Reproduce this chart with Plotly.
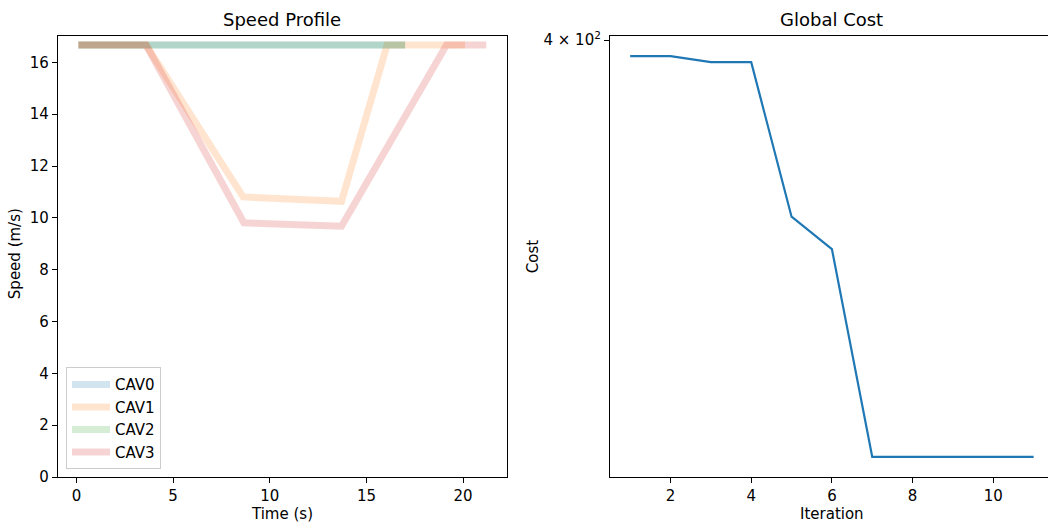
import plotly.graph_objects as go
import numpy as np

# ---------------- data ----------------
cav_names = ["CAV0", "CAV1", "CAV2", "CAV3"]
cav0_t = [0.1, 17.0]
cav0_v = [16.67, 16.67]
cav1_t = [0.1, 3.6, 8.62, 13.71, 16.07, 20.1]
cav1_v = [16.67, 16.67, 10.81, 10.64, 16.67, 16.67]
cav2_t = [0.1, 17.0]
cav2_v = [16.67, 16.67]
cav3_t = [0.1, 3.6, 8.66, 13.71, 19.14, 21.2]
cav3_v = [16.67, 16.67, 9.81, 9.68, 16.67, 16.67]

iterations = [1, 2, 3, 4, 5, 6, 7, 8, 9, 10, 11]
global_cost = [396.3, 396.3, 394.9, 394.9, 361.1, 354.4, 314.2, 314.2, 314.2, 314.2, 314.2]

cav_colors = ["rgba(31,119,180,0.2)", "rgba(255,127,14,0.2)",
              "rgba(44,160,44,0.2)", "rgba(214,39,40,0.2)"]

# ---------------- layout helpers ----------------
W, H = 1048, 522
TOP, BOTTOM = 36, 476.7
PH = BOTTOM - TOP
def px(x):
    return x / W
def py(y):
    return (BOTTOM - y) / PH

FONT = "DejaVu Sans"
FS = 15
fig = go.Figure()

series = [(cav0_t, cav0_v), (cav1_t, cav1_v), (cav2_t, cav2_v), (cav3_t, cav3_v)]
for name, (t, v), c in zip(cav_names, series, cav_colors):
    fig.add_trace(go.Scatter(x=t, y=v, mode="lines", name=name,
                             line=dict(color=c, width=7),
                             xaxis="x", yaxis="y"))

fig.add_trace(go.Scatter(x=iterations, y=global_cost, mode="lines",
                         line=dict(color="#1f77b4", width=2.2),
                         showlegend=False, xaxis="x2", yaxis="y2"))

# axis ranges (matplotlib-like 5% margins)
all_t = cav0_t + cav1_t + cav2_t + cav3_t
all_v = cav0_v + cav1_v + cav2_v + cav3_v
tmin, tmax = min(all_t), max(all_t)
tpad = 0.05 * (tmax - tmin)
vmin, vmax = min(all_v), max(all_v)
vtop = vmax + 0.05 * (vmax - vmin)

imin, imax = min(iterations), max(iterations)
ipad = 0.05 * (imax - imin)
ilo, ihi = imin - ipad, imax + ipad
# right axes extend past the canvas edge in the reference (610 -> 1053.8 px)
ihi_vis = ilo + (ihi - ilo) * (W - 610) / (1053.8 - 610)
clo, chi = np.log10(min(global_cost)), np.log10(max(global_cost))
cpad = 0.05 * (chi - clo)

tickfont = dict(family=FONT, size=FS, color="black")
common = dict(showline=True, linecolor="black", linewidth=1.2, ticks="outside",
              ticklen=5, tickwidth=1.2, tickcolor="black", showgrid=False,
              zeroline=False, tickfont=tickfont)

fig.update_layout(
    width=W, height=H,
    margin=dict(l=0, r=0, t=TOP, b=H - BOTTOM),
    paper_bgcolor="white", plot_bgcolor="white",
    font=dict(family=FONT, size=FS, color="black"),
    xaxis=dict(domain=[px(58), px(506.7)], range=[tmin - tpad, tmax + tpad],
               tickvals=[0, 5, 10, 15, 20], mirror=True, anchor="y", **common),
    yaxis=dict(domain=[0, 1], range=[0, vtop], tickvals=list(range(0, 17, 2)),
               mirror=True, anchor="x", **common),
    xaxis2=dict(domain=[px(610), 1.0], range=[ilo, ihi_vis],
                tickvals=[2, 4, 6, 8, 10], mirror=True, anchor="y2", **common),
    yaxis2=dict(domain=[0, 1], type="log", range=[clo - cpad, chi + cpad],
                tickvals=[400], ticktext=["4 × 10<sup>2</sup>"],
                mirror=False, anchor="x2", **common),
    legend=dict(x=px(66), y=py(469), xanchor="left", yanchor="bottom",
                bgcolor="white", bordercolor="#cccccc", borderwidth=1,
                font=dict(family=FONT, size=FS, color="black"),
                itemwidth=38, tracegroupgap=0),
    showlegend=True,
)

ann = []
ann.append(dict(text="Speed Profile", x=px(282.3), y=py(32), xref="paper", yref="paper",
                xanchor="center", yanchor="bottom", showarrow=False,
                font=dict(family=FONT, size=18, color="black")))
ann.append(dict(text="Global Cost", x=px(831.9), y=py(32), xref="paper", yref="paper",
                xanchor="center", yanchor="bottom", showarrow=False,
                font=dict(family=FONT, size=18, color="black")))
ann.append(dict(text="Time (s)", x=px(282.3), y=py(513.3), xref="paper", yref="paper",
                xanchor="center", yanchor="middle", showarrow=False,
                font=dict(family=FONT, size=FS, color="black")))
ann.append(dict(text="Iteration", x=px(831.7), y=py(514), xref="paper", yref="paper",
                xanchor="center", yanchor="middle", showarrow=False,
                font=dict(family=FONT, size=FS, color="black")))
ann.append(dict(text="Speed (m/s)", x=px(15), y=py(254), xref="paper", yref="paper",
                xanchor="center", yanchor="middle", showarrow=False, textangle=-90,
                font=dict(family=FONT, size=FS, color="black")))
ann.append(dict(text="Cost", x=px(533), y=py(256), xref="paper", yref="paper",
                xanchor="center", yanchor="middle", showarrow=False, textangle=-90,
                font=dict(family=FONT, size=FS, color="black")))
fig.update_layout(annotations=ann)

fig.write_html("out.html")
